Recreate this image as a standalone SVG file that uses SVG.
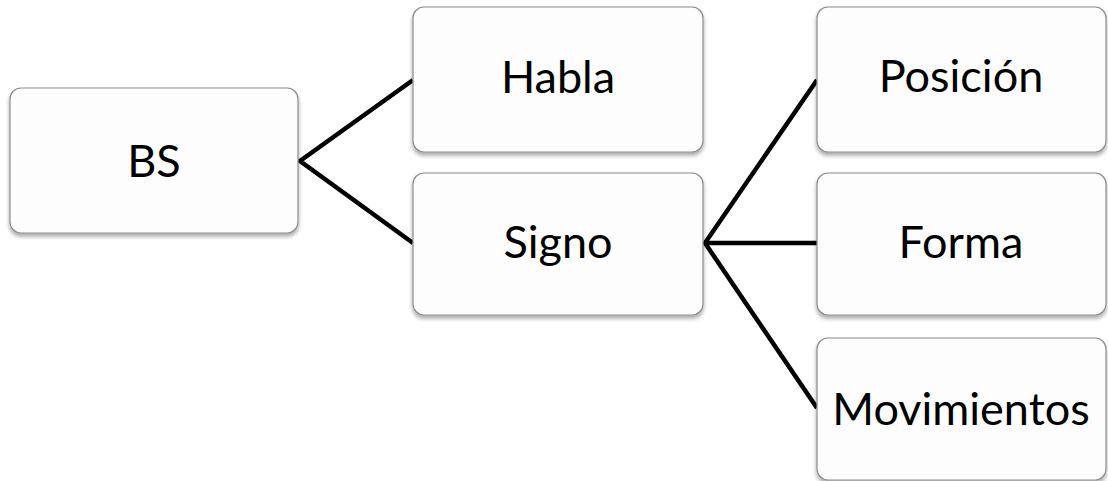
<svg xmlns="http://www.w3.org/2000/svg" width="1108" height="481" viewBox="0 0 1108 481">
<defs>
<filter id="sh" x="-10%" y="-10%" width="120%" height="130%">
<feGaussianBlur in="SourceAlpha" stdDeviation="2"/>
<feOffset dx="0" dy="3"/>
<feComponentTransfer><feFuncA type="linear" slope="0.35"/></feComponentTransfer>
<feMerge><feMergeNode/><feMergeNode in="SourceGraphic"/></feMerge>
</filter>
</defs>
<style>
.box{fill:#fdfdfd;stroke:#8c8c8c;stroke-width:1.2;filter:url(#sh)}
.lbl{font-family:Lato,"Open Sans",sans-serif;font-size:45px;fill:#000;text-anchor:middle}
.con{stroke:#000;stroke-width:4.5;fill:none;stroke-linejoin:miter}
</style>
<rect width="1108" height="481" fill="#fff"/>
<g id="connectors">
<polyline class="con" points="413,80 300,161 413,243"/>
<polyline class="con" points="817,80 705,243 817,408"/>
<line class="con" x1="705" y1="243" x2="817" y2="243"/>
</g>
<g id="node-bs"><rect class="box" x="10" y="88" width="288" height="145" rx="11"/><text class="lbl" x="154" y="177">BS</text></g>
<g id="node-habla"><rect class="box" x="413" y="7" width="290" height="145" rx="11"/><text class="lbl" x="558" y="93">Habla</text></g>
<g id="node-signo"><rect class="box" x="413" y="173" width="290" height="142" rx="11"/><text class="lbl" x="558" y="258">Signo</text></g>
<g id="node-posicion"><rect class="box" x="817" y="7" width="289" height="145" rx="11"/><text class="lbl" x="961" y="92">Posición</text></g>
<g id="node-forma"><rect class="box" x="817" y="173" width="289" height="142" rx="11"/><text class="lbl" x="961" y="258">Forma</text></g>
<g id="node-movimientos"><rect class="box" x="817" y="338" width="289" height="142" rx="11"/><text class="lbl" x="961" y="425">Movimientos</text></g>
</svg>
